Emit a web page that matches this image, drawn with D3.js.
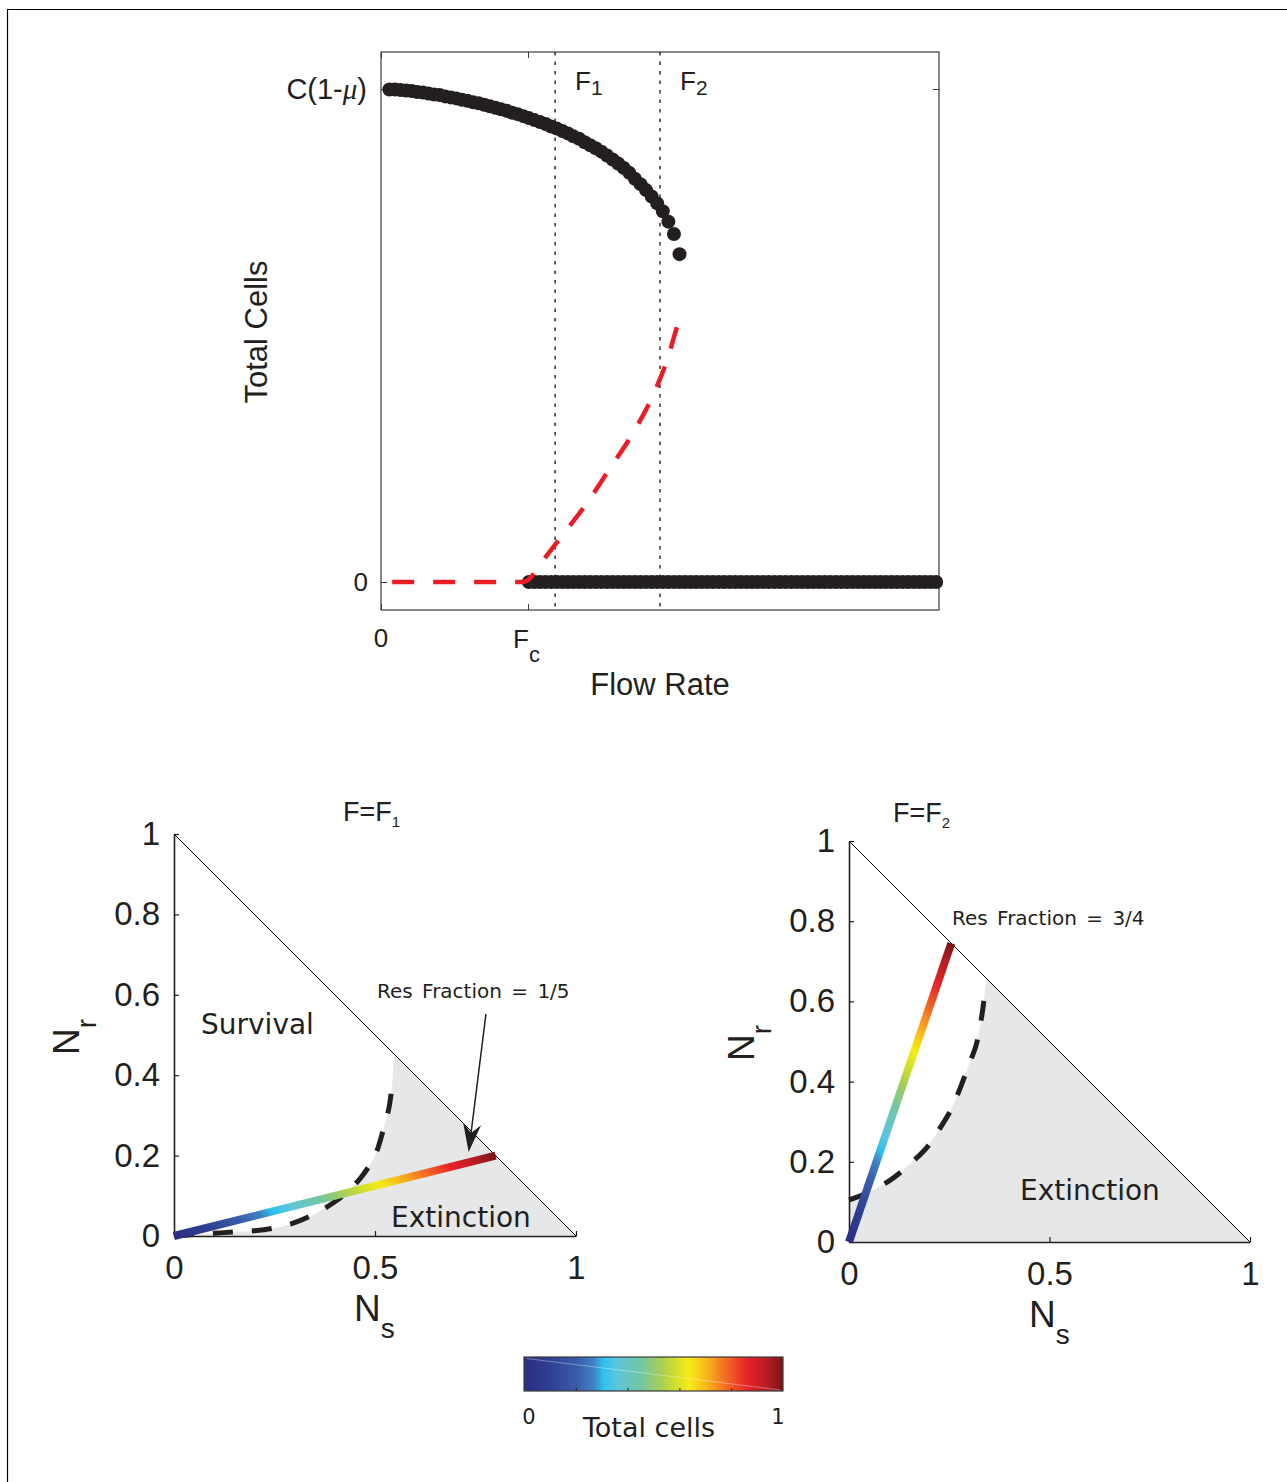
<!DOCTYPE html>
<html>
<head>
<meta charset="utf-8">
<script src="https://cdn.jsdelivr.net/npm/d3@7"></script>
<style>
  body { margin: 0; background: #fff; }
  text { fill: #231f20; }
  .hv { font-family: "Liberation Sans", Arial, Helvetica, sans-serif; }
  .dv { font-family: "DejaVu Sans", Verdana, sans-serif; }
</style>
</head>
<body>
<svg id="fig" width="1287" height="1482"></svg>
<script>
// ---------- data ----------

// flow rates at which the steady states were sampled
const flowGrid = [
  0.03, 0.05, 0.07, 0.09, 0.11, 0.13, 0.15, 0.17, 0.19, 0.21,
  0.23, 0.25, 0.27, 0.29, 0.31, 0.33, 0.35, 0.37, 0.39, 0.41,
  0.43, 0.45, 0.47, 0.49, 0.51, 0.53, 0.55, 0.57, 0.59, 0.61,
  0.63, 0.65, 0.67, 0.69, 0.71, 0.73, 0.75, 0.77, 0.79, 0.81,
  0.83, 0.85, 0.87, 0.89, 0.91, 0.93, 0.95, 0.97, 0.99, 1.01,
  1.03, 1.05, 1.07, 1.09, 1.11, 1.13, 1.15, 1.17, 1.19, 1.21,
  1.23, 1.25, 1.27, 1.29, 1.31, 1.33, 1.35, 1.37, 1.39, 1.41,
  1.43, 1.45, 1.47, 1.49, 1.51, 1.53, 1.55, 1.57, 1.59, 1.61,
  1.63, 1.65, 1.67, 1.69, 1.71, 1.73, 1.75, 1.77, 1.79, 1.81,
  1.83, 1.85, 1.87, 1.89, 1.91, 1.93, 1.95, 1.97, 1.99
];

// upper stable branch (units of C(1-mu)), one per flowGrid value from 0.03 to 1.07
const stableHigh = [
  0.999, 0.999, 0.998, 0.997, 0.996, 0.994, 0.993, 0.991, 0.989,
  0.988, 0.985, 0.983, 0.981, 0.978, 0.976, 0.973, 0.971, 0.968, 0.965,
  0.962, 0.959, 0.956, 0.952, 0.949, 0.945, 0.941, 0.937, 0.933, 0.929,
  0.924, 0.920, 0.915, 0.910, 0.904, 0.899, 0.892, 0.886, 0.880, 0.873,
  0.865, 0.857, 0.849, 0.840, 0.830, 0.818, 0.807, 0.795, 0.782, 0.768,
  0.752, 0.731, 0.706, 0.665
];
const stableLow = 0;   // extinct branch, for every flow above Fc

// unstable branch (red dashed)
const unstableFlow  = [0.04, 0.505, 0.527, 0.552, 0.588, 0.642, 0.738, 0.821, 0.903, 0.975, 1.029, 1.061, 1.075];
const unstableTotal = [0,    0,     0.004, 0.020, 0.049, 0.089, 0.160, 0.231, 0.302, 0.379, 0.456, 0.517, 0.540];

const fc = 0.527, f1 = 0.624, f2 = 1.0;

// phase plane, F = F1
const sepF1Ns = [0, 0.05, 0.10, 0.15, 0.20, 0.25, 0.30, 0.35, 0.40, 0.44, 0.47, 0.50, 0.52, 0.535, 0.543, 0.548];
const sepF1Nr = [0, 0.004, 0.007, 0.010, 0.013, 0.020, 0.033, 0.055, 0.085, 0.118, 0.152, 0.200, 0.262, 0.320, 0.380, 0.452];
const resF1Ns = [0, 0.8];
const resF1Nr = [0, 0.2];
const arrowF1Ns = [0.776, 0.733];
const arrowF1Nr = [0.552, 0.209];

// phase plane, F = F2
const sepF2Ns = [0, 0.038, 0.101, 0.146, 0.196, 0.227, 0.254, 0.277, 0.299, 0.317, 0.331, 0.337, 0.343];
const sepF2Nr = [0.105, 0.119, 0.153, 0.189, 0.238, 0.284, 0.329, 0.383, 0.442, 0.491, 0.563, 0.608, 0.657];
const resF2Ns = [0, 0.255];
const resF2Nr = [0, 0.745];

const phaseTicksY = [0, 0.2, 0.4, 0.6, 0.8, 1];
const phaseLabelsY = ["0", "0.2", "0.4", "0.6", "0.8", "1"];
const phaseTicksX = [0, 0.5, 1];
const phaseLabelsX = ["0", "0.5", "1"];

// colour map for "Total cells"
const cmapPos = [0, 0.1, 0.2, 0.27, 0.307, 0.36, 0.45, 0.53, 0.59, 0.64, 0.71, 0.78, 0.86, 0.94, 1];
const cmapColor = ["#2b2e83", "#2e3f92", "#3a5ca8", "#3f82c4", "#2fc0ef", "#5ec6dc", "#72c5a5", "#a6cf55",
                   "#d6e02a", "#f6eb16", "#f8b11d", "#f26b23", "#e8242a", "#b51c22", "#7a1517"];
const cbarTicks = [0.2, 0.4, 0.6, 0.8];

// ---------- drawing ----------
const INK = "#231f20";
const svg = d3.select("#fig");
const defs = svg.append("defs");

// outer frame (left and top edges)
svg.append("path")
  .attr("d", "M7.5,1482V9.5H1287")
  .attr("fill", "none")
  .attr("stroke", "#000")
  .attr("stroke-width", 1.2);

function subText(g, x, y, main, sub, size, subSize, shift, cls) {
  const t = g.append("text")
    .attr("class", cls)
    .attr("x", x)
    .attr("y", y)
    .style("font-size", size + "px");
  t.append("tspan").text(main);
  t.append("tspan").attr("dy", shift).style("font-size", subSize + "px").text(sub);
  return t;
}

function addGradient(id, x1, y1, x2, y2) {
  const grad = defs.append("linearGradient")
    .attr("id", id)
    .attr("gradientUnits", "userSpaceOnUse")
    .attr("x1", x1).attr("y1", y1)
    .attr("x2", x2).attr("y2", y2);
  grad.selectAll("stop")
    .data(cmapPos)
    .join("stop")
    .attr("offset", d => d)
    .attr("stop-color", (d, i) => cmapColor[i]);
}

function drawTopPanel() {
  const x = d3.scaleLinear().domain([0, 2]).range([381, 939]);
  const y = d3.scaleLinear().domain([-0.0568, 1.0751]).range([610, 52]);
  const g = svg.append("g").attr("id", "flow-panel");

  // ticks on all four sides, pointing in
  const axB = g.append("g").attr("transform", "translate(0,610)")
    .call(d3.axisBottom(x).tickValues([0, fc]).tickSizeInner(-6).tickSizeOuter(0).tickFormat(""));
  const axT = g.append("g").attr("transform", "translate(0,52)")
    .call(d3.axisTop(x).tickValues([0, fc]).tickSizeInner(-6).tickSizeOuter(0).tickFormat(""));
  const axL = g.append("g").attr("transform", "translate(381,0)")
    .call(d3.axisLeft(y).tickValues([0, 1]).tickSizeInner(-6).tickSizeOuter(0).tickFormat(""));
  const axR = g.append("g").attr("transform", "translate(939,0)")
    .call(d3.axisRight(y).tickValues([0, 1]).tickSizeInner(-6).tickSizeOuter(0).tickFormat(""));
  [axB, axT, axL, axR].forEach(a => {
    a.select(".domain").remove();
    a.attr("color", "#3a3a3a");
  });

  g.append("rect")
    .attr("x", x(0)).attr("y", y.range()[1])
    .attr("width", x(2) - x(0)).attr("height", y.range()[0] - y.range()[1])
    .attr("fill", "none")
    .attr("stroke", "#3a3a3a")
    .attr("stroke-width", 1.2);

  // F1 / F2 markers
  [f1, f2].forEach((f, i) => {
    g.append("line")
      .attr("x1", x(f)).attr("x2", x(f))
      .attr("y1", y.range()[1]).attr("y2", y.range()[0])
      .attr("stroke", INK)
      .attr("stroke-width", 1.4)
      .attr("stroke-dasharray", "3.5,6");
    subText(g, x(f) + 20, 90, "F", String(i + 1), 26, 21, 5, "hv");
  });

  // stable branches
  const high = stableHigh.map((v, i) => [flowGrid[i], v]);
  const low = flowGrid.filter(f => f > fc).map(f => [f, stableLow]);
  g.append("g")
    .selectAll("circle")
    .data(high.concat(low))
    .join("circle")
    .attr("cx", d => x(d[0]))
    .attr("cy", d => y(d[1]))
    .attr("r", 7)
    .attr("fill", INK);

  // unstable branch
  g.append("path")
    .datum(unstableFlow.map((f, i) => [f, unstableTotal[i]]))
    .attr("d", d3.line().x(d => x(d[0])).y(d => y(d[1])).curve(d3.curveMonotoneX))
    .attr("fill", "none")
    .attr("stroke", "#ec1c24")
    .attr("stroke-width", 4.5)
    .attr("stroke-dasharray", "22,19");

  // tick labels
  g.append("text").attr("class", "hv").attr("x", x(0)).attr("y", 647)
    .attr("text-anchor", "middle").style("font-size", "26px").text("0");
  subText(g, x(fc) - 15, 648, "F", "c", 26, 22, 14, "hv");
  g.append("text").attr("class", "hv").attr("x", 368).attr("y", y(0) + 9)
    .attr("text-anchor", "end").style("font-size", "26px").text("0");
  const cLab = g.append("text").attr("class", "hv").attr("x", 367).attr("y", y(1) + 10)
    .attr("text-anchor", "end").style("font-size", "29px");
  cLab.append("tspan").text("C(1-");
  cLab.append("tspan").style("font-family", "'Liberation Serif', 'DejaVu Serif', serif")
    .style("font-style", "italic").text("\u03bc");
  cLab.append("tspan").text(")");

  // axis titles
  g.append("text").attr("class", "hv")
    .attr("x", (x(0) + x(2)) / 2).attr("y", 695)
    .attr("text-anchor", "middle").style("font-size", "31px").text("Flow Rate");
  g.append("text").attr("class", "hv")
    .attr("transform", "translate(267,332) rotate(-90)")
    .attr("text-anchor", "middle").style("font-size", "31px").text("Total Cells");
}

function drawPhasePanel(cfg) {
  const xs = d3.scaleLinear().domain([0, 1]).range([cfg.x0, cfg.x0 + cfg.size]);
  const ys = d3.scaleLinear().domain([0, 1]).range([cfg.y0, cfg.y0 - cfg.size]);
  const g = svg.append("g").attr("id", cfg.id);

  const sepPts = cfg.sepNs.map((v, i) => [v, cfg.sepNr[i]]);
  const sepLine = d3.line().x(d => xs(d[0])).y(d => ys(d[1])).curve(d3.curveCatmullRom);
  const sepPath = sepLine(sepPts);

  // extinction region
  g.append("path")
    .attr("d", sepPath + "L" + xs(1) + "," + ys(0) + "L" + xs(0) + "," + ys(0) + "Z")
    .attr("fill", "#e6e7e8");

  // separatrix (dashes stop just short of the simplex edge)
  g.append("path")
    .attr("d", sepLine(sepPts.slice(0, -1)))
    .attr("fill", "none")
    .attr("stroke", INK)
    .attr("stroke-width", 5)
    .attr("stroke-dasharray", "20,19");

  // simplex edge N_s + N_r = 1
  g.append("line")
    .attr("x1", xs(0)).attr("y1", ys(1))
    .attr("x2", xs(1)).attr("y2", ys(0))
    .attr("stroke", "#000")
    .attr("stroke-width", 1);

  const axL = g.append("g").attr("transform", "translate(" + cfg.x0 + ",0)")
    .call(d3.axisLeft(ys).tickValues(phaseTicksY).tickSizeInner(-5).tickSizeOuter(0).tickPadding(14)
      .tickFormat((d, i) => phaseLabelsY[i]));
  const axB = g.append("g").attr("transform", "translate(0," + cfg.y0 + ")")
    .call(d3.axisBottom(xs).tickValues(phaseTicksX).tickSizeInner(-5).tickSizeOuter(0).tickPadding(20)
      .tickFormat((d, i) => phaseLabelsX[i]));
  [axL, axB].forEach(a => {
    a.attr("color", INK).attr("font-family", null).attr("font-size", null);
    a.selectAll("text").attr("class", "hv").style("font-size", "33px");
    a.select(".domain").attr("stroke-width", 1.6);
    a.selectAll(".tick line").attr("stroke-width", 1.2);
  });

  // resident fraction trajectory, coloured by total cells
  addGradient(cfg.id + "-grad", xs(0), ys(0), xs(0.5), ys(0.5));
  g.append("path")
    .datum(cfg.resNs.map((v, i) => [v, cfg.resNr[i]]))
    .attr("d", d3.line().x(d => xs(d[0])).y(d => ys(d[1])))
    .attr("fill", "none")
    .attr("stroke", "url(#" + cfg.id + "-grad)")
    .attr("stroke-width", 8);

  // arrow pointing to the trajectory
  if (cfg.arrowNs) {
    const sx = xs(cfg.arrowNs[0]), sy = ys(cfg.arrowNr[0]);
    const tx = xs(cfg.arrowNs[1]), ty = ys(cfg.arrowNr[1]);
    const len = Math.hypot(tx - sx, ty - sy);
    const ux = (tx - sx) / len, uy = (ty - sy) / len;
    const nx = -uy, ny = ux;
    const L = 28, W = 9;
    g.append("line")
      .attr("x1", sx).attr("y1", sy)
      .attr("x2", tx - ux * 18).attr("y2", ty - uy * 18)
      .attr("stroke", INK)
      .attr("stroke-width", 1.5);
    g.append("path")
      .attr("d", "M" + tx + "," + ty +
        "L" + (tx - ux * L + nx * W) + "," + (ty - uy * L + ny * W) +
        "L" + (tx - ux * L * 0.68) + "," + (ty - uy * L * 0.68) +
        "L" + (tx - ux * L - nx * W) + "," + (ty - uy * L - ny * W) + "Z")
      .attr("fill", INK);
  }

  // labels
  subText(g, cfg.titleX, cfg.titleY, "F=F", cfg.titleSub, 27, 15, 6, "hv");
  subText(g, cfg.x0 + 180, cfg.y0 + 85, "N", "s", 37, 28, 17, "hv");
  subText(g, 0, 0, "N", "r", 37, 28, 17, "hv")
    .attr("transform", "translate(" + (cfg.x0 - 95) + "," + (cfg.y0 - 181) + ") rotate(-90)");

  cfg.notes.forEach(n => {
    g.append("text")
      .attr("class", "dv")
      .attr("x", n.x).attr("y", n.y)
      .style("font-size", n.size + "px")
      .style("word-spacing", (n.ws || 0) + "px")
      .text(n.text);
  });
}

function drawColorbar() {
  const cx = d3.scaleLinear().domain([0, 1]).range([524, 783]);
  const g = svg.append("g").attr("id", "colorbar");
  addGradient("cbar-grad", cx(0), 0, cx(1), 0);
  g.append("rect")
    .attr("x", cx(0)).attr("y", 1357)
    .attr("width", cx(1) - cx(0)).attr("height", 34)
    .attr("fill", "url(#cbar-grad)");
  g.append("line")
    .attr("x1", cx(0.01)).attr("y1", 1358.5)
    .attr("x2", cx(0.99)).attr("y2", 1390)
    .attr("stroke", "#fff")
    .attr("stroke-opacity", 0.35)
    .attr("stroke-width", 1);
  const ax = g.append("g").attr("transform", "translate(0,1391)")
    .call(d3.axisBottom(cx).tickValues(cbarTicks).tickSizeInner(-3).tickSizeOuter(0).tickFormat(""));
  ax.select(".domain").remove();
  ax.attr("color", INK);
  g.append("rect")
    .attr("x", cx(0)).attr("y", 1357)
    .attr("width", cx(1) - cx(0)).attr("height", 34)
    .attr("fill", "none")
    .attr("stroke", "#3a3a3a")
    .attr("stroke-width", 1.2);
  g.append("text").attr("class", "dv").attr("x", cx(0) + 5).attr("y", 1424)
    .attr("text-anchor", "middle").style("font-size", "21px").text("0");
  g.append("text").attr("class", "dv").attr("x", cx(1) - 5).attr("y", 1424)
    .attr("text-anchor", "middle").style("font-size", "21px").text("1");
  g.append("text").attr("class", "dv").attr("x", 649).attr("y", 1437)
    .attr("text-anchor", "middle").style("font-size", "27px").text("Total cells");
}

drawTopPanel();

drawPhasePanel({
  id: "phase-f1", x0: 174, y0: 1236, size: 402,
  sepNs: sepF1Ns, sepNr: sepF1Nr,
  resNs: resF1Ns, resNr: resF1Nr,
  arrowNs: arrowF1Ns, arrowNr: arrowF1Nr,
  titleX: 343, titleY: 821, titleSub: "1",
  notes: [
    { text: "Survival", x: 201, y: 1034, size: 28 },
    { text: "Extinction", x: 391, y: 1227, size: 28 },
    { text: "Res Fraction = 1/5", x: 377, y: 998, size: 20, ws: 3 }
  ]
});

drawPhasePanel({
  id: "phase-f2", x0: 849, y0: 1242, size: 401,
  sepNs: sepF2Ns, sepNr: sepF2Nr,
  resNs: resF2Ns, resNr: resF2Nr,
  titleX: 893, titleY: 822, titleSub: "2",
  notes: [
    { text: "Extinction", x: 1020, y: 1200, size: 28 },
    { text: "Res Fraction = 3/4", x: 952, y: 925, size: 20, ws: 3 }
  ]
});

drawColorbar();
</script>
</body>
</html>
